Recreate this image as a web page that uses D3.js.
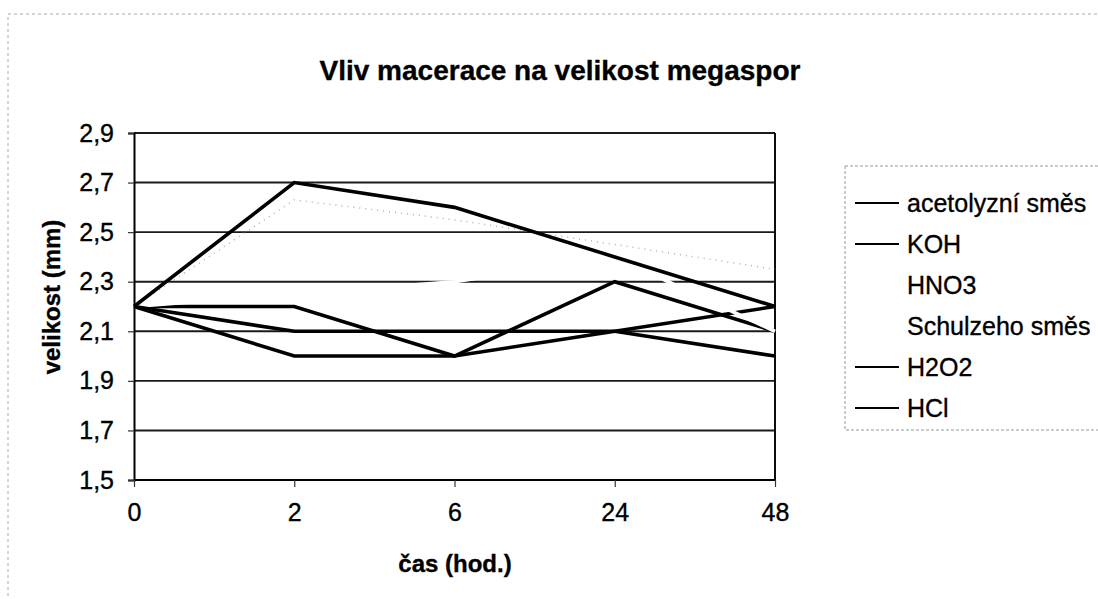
<!DOCTYPE html>
<html>
<head>
<meta charset="utf-8">
<script src="https://cdn.jsdelivr.net/npm/d3@7"></script>
<style>
  body { margin: 0; background: #fff; }
  svg { font-family: 'Liberation Sans', Arial, sans-serif; }
  svg text { stroke: #000; stroke-width: 0.35px; }
</style>
</head>
<body>
<svg id="area" width="1098" height="599"></svg>
<script>
const categories = ['0', '2', '6', '24', '48'];
const seriesNames = ['acetolyzní směs', 'KOH', 'HNO3', 'Schulzeho směs', 'H2O2', 'HCl'];
const acetolyzni = [2.2, 2.0, 2.0, 2.1, 2.2];
const koh = [2.2, 2.2, 2.0, 2.3, 2.1];
const hno3 = [2.2, 2.63, 2.55, 2.45, 2.35];
const schulze = [2.2, 2.25, 2.3, 2.4, 2.1];
const h2o2 = [2.2, 2.1, 2.1, 2.1, 2.0];
const hcl = [2.2, 2.7, 2.6, 2.4, 2.2];
const yTicks = [1.5, 1.7, 1.9, 2.1, 2.3, 2.5, 2.7, 2.9];

const seriesValues = [acetolyzni, koh, hno3, schulze, h2o2, hcl];
// faint series printed almost white in the scan
const seriesStroke = ['#000', '#000', '#b0b0b0', '#fff', '#000', '#000'];
const seriesDash = [null, null, '1,5', null, null, null];
const legendStroke = ['#000', '#000', 'none', 'none', '#000', '#000'];

function drawChart() {
  const svg = d3.select('#area');

  const left = 134;
  const right = 775;
  const top = 133;
  const bottom = 480;

  const x = d3.scalePoint(categories, [left, right]);
  const y = d3.scaleLinear([1.5, 2.9], [bottom, top]);
  const fmt = (d) => d3.format('.1f')(d).replace('.', ',');

  // chart area border
  svg.append('path')
    .attr('d', 'M8,1100 L8,14 L1110,14')
    .attr('fill', 'none')
    .attr('stroke', '#aaa')
    .attr('stroke-dasharray', '3,3');

  // title
  svg.append('text')
    .attr('x', 560)
    .attr('y', 80)
    .attr('text-anchor', 'middle')
    .style('font-weight', 'bold')
    .style('font-size', '28px')
    .text('Vliv macerace na velikost megaspor');

  // grid
  svg.append('g')
    .selectAll('line')
    .data(yTicks)
    .join('line')
    .attr('x1', left)
    .attr('x2', right)
    .attr('y1', (d) => y(d))
    .attr('y2', (d) => y(d))
    .attr('stroke', (d) => (d === 1.5 ? '#000' : '#1a1a1a'))
    .attr('stroke-width', 1.9);

  // right border
  svg.append('line')
    .attr('x1', right).attr('x2', right)
    .attr('y1', top).attr('y2', bottom)
    .attr('stroke', '#000')
    .attr('stroke-width', 1.9);

  // y axis
  const yAxis = svg.append('g')
    .attr('transform', `translate(${left},0)`)
    .call(d3.axisLeft(y).tickValues(yTicks).tickFormat(fmt).tickSize(6).tickPadding(14));
  yAxis.select('.domain').attr('stroke', '#000').attr('stroke-width', 2);
  yAxis.selectAll('.tick line').attr('stroke', '#333').attr('stroke-width', 1.2);
  yAxis.selectAll('.tick text')
    .style('font-size', '25px')
    .style('font-family', "'Liberation Sans', Arial, sans-serif")
    .attr('fill', '#000');

  // x axis
  const xAxis = svg.append('g')
    .attr('transform', `translate(0,${bottom})`)
    .call(d3.axisBottom(x).tickSize(7).tickPadding(16));
  xAxis.select('.domain').remove();
  xAxis.selectAll('.tick line').attr('stroke', '#333').attr('stroke-width', 1.2);
  xAxis.selectAll('.tick text')
    .style('font-size', '25px')
    .style('font-family', "'Liberation Sans', Arial, sans-serif")
    .attr('fill', '#000');

  // axis titles
  svg.append('text')
    .attr('x', 455)
    .attr('y', 572)
    .attr('text-anchor', 'middle')
    .style('font-weight', 'bold')
    .style('font-size', '24px')
    .text('čas (hod.)');

  svg.append('text')
    .attr('transform', 'translate(60,297) rotate(-90)')
    .attr('text-anchor', 'middle')
    .style('font-weight', 'bold')
    .style('font-size', '24px')
    .text('velikost (mm)');

  // lines
  const line = d3.line()
    .x((d, i) => x(categories[i]))
    .y((d) => y(d));

  svg.append('g')
    .selectAll('path')
    .data(seriesValues)
    .join('path')
    .attr('d', (d) => line(d))
    .attr('fill', 'none')
    .attr('stroke', (d, i) => seriesStroke[i])
    .attr('stroke-width', (d, i) => (i === 2 ? 1.5 : 3.6))
    .attr('stroke-dasharray', (d, i) => seriesDash[i])
    .attr('stroke-linejoin', 'miter');

  // legend
  const legend = svg.append('g');
  legend.append('rect')
    .attr('x', 845)
    .attr('y', 166)
    .attr('width', 270)
    .attr('height', 264)
    .attr('fill', 'none')
    .attr('stroke', '#999')
    .attr('stroke-dasharray', '3,2');

  const item = legend.selectAll('g')
    .data(seriesNames)
    .join('g')
    .attr('transform', (d, i) => `translate(0,${203 + i * 41})`);
  item.append('line')
    .attr('x1', 855)
    .attr('x2', 899)
    .attr('stroke', (d, i) => legendStroke[i])
    .attr('stroke-width', 2);
  item.append('text')
    .attr('x', 907)
    .attr('y', 9)
    .style('font-size', '25px')
    .text((d) => d);
}

drawChart();
</script>
</body>
</html>
